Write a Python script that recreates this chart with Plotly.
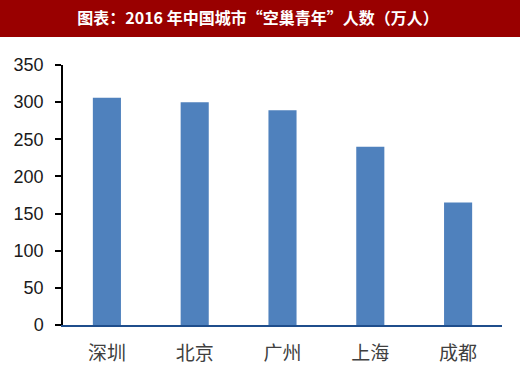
import plotly.graph_objects as go

cities = ["深圳", "北京", "广州", "上海", "成都"]
values = [306, 300, 289, 240, 165]
y_ticks = [0, 50, 100, 150, 200, 250, 300, 350]
title_text = "图表：2016 年中国城市“空巢青年”人数（万人）"

fig = go.Figure(go.Bar(x=cities, y=values, marker=dict(color="#4F81BD", line=dict(width=0))))

fig.update_layout(
    width=520, height=369,
    margin=dict(l=63, r=18, t=65, b=44, autoexpand=False),
    paper_bgcolor="white", plot_bgcolor="white",
    bargap=0.68,
    showlegend=False,
    title=dict(text=title_text, x=(258-63)/439, xanchor="center", xref="paper",
               yref="container", y=1 - 18.5/369, yanchor="middle",
               font=dict(family="Noto Sans CJK SC", size=16, color="white", weight="bold")),
    shapes=[dict(type="rect", xref="paper", yref="paper",
                 x0=-0.2, x1=1.2, y0=(325-37)/260, y1=1.4,
                 fillcolor="#990000", line=dict(width=0), layer="below")],
)

fig.update_yaxes(range=[0, 350], tickvals=y_ticks, showgrid=False, zeroline=False,
                 showline=True, linecolor="black", linewidth=1.5, automargin=False,
                 ticks="outside", ticklen=6, tickcolor="black", tickwidth=1.5,
                 ticklabelstandoff=8,
                 tickfont=dict(family="Liberation Sans, Arial", size=18, color="#1a1a1a"))
fig.update_xaxes(showgrid=False, showline=True, linecolor="#1F4E8C", linewidth=2,
                 automargin=False,
                 ticks="", ticklabelstandoff=10,
                 tickfont=dict(family="Noto Sans CJK SC", size=19, color="#404040"))

fig.write_html("out.html")
